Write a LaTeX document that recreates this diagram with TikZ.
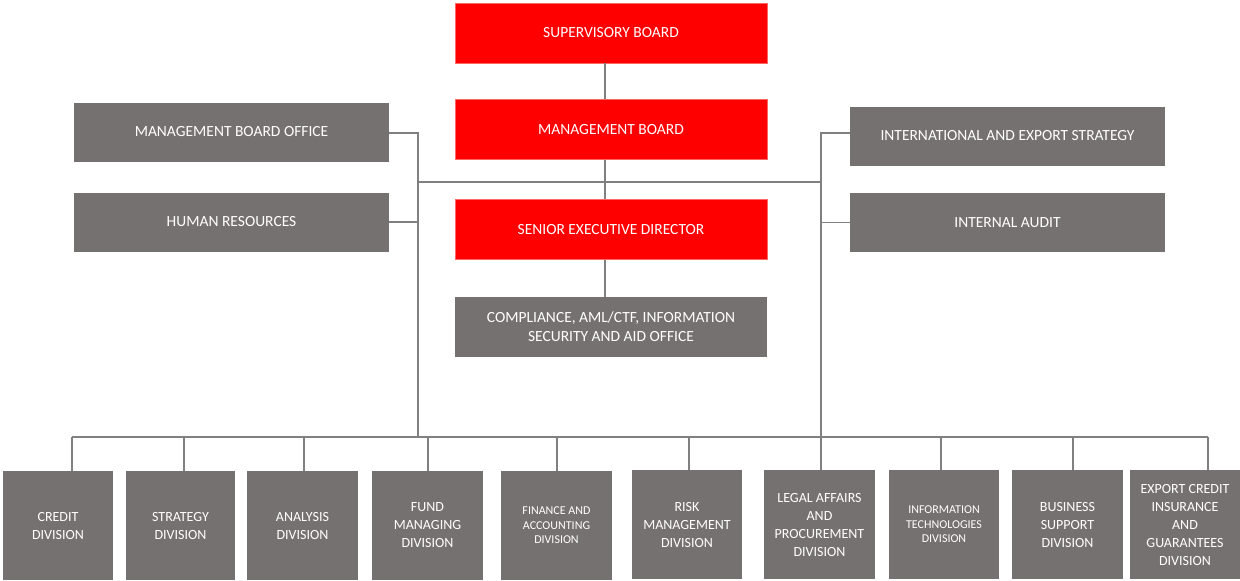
\documentclass[tikz,border=0pt]{standalone}
\usepackage{fontspec}
\setmainfont{Carlito}
\definecolor{boardred}{RGB}{255,0,0}
\definecolor{unitgrey}{RGB}{118,113,113}
\definecolor{linegrey}{RGB}{128,128,128}

\begin{document}
\begin{tikzpicture}[
    x=1pt, y=-1pt,
    box/.style={text=white, inner sep=0pt, align=center,
        font=\fontsize{15.5}{19}\selectfont},
    redbox/.style={box, fill=boardred, draw=boardred!60!white, line width=0.6pt,
        minimum width=312pt, minimum height=60pt},
    greybox/.style={box, fill=unitgrey, minimum width=315pt, minimum height=59pt},
    divbox/.style={box, fill=unitgrey, minimum width=110pt, minimum height=109pt,
        font=\fontsize{14}{18}\selectfont},
    smalltext/.style={font=\fontsize{12}{14.5}\selectfont},
    link/.style={draw=linegrey, line width=1.8pt}
    ]
    \useasboundingbox (0,0) rectangle (1240,581);

    % board column
    \node[redbox] (sup) at (611,33) {SUPERVISORY BOARD};
    \node[redbox] (mb) at (611,129.5) {MANAGEMENT BOARD};
    \node[redbox] (sed) at (611,229.5) {SENIOR EXECUTIVE DIRECTOR};
    \node[greybox, minimum width=312pt, minimum height=60pt] (comp) at (611,327) {COMPLIANCE, AML/CTF, INFORMATION\\SECURITY AND AID OFFICE};

    % staff units
    \node[greybox] (mbo) at (231.5,132) {MANAGEMENT BOARD OFFICE};
    \node[greybox] (hr) at (231.5,222) {HUMAN RESOURCES};
    \node[greybox] (ies) at (1007.5,136) {INTERNATIONAL AND EXPORT STRATEGY};
    \node[greybox] (ia) at (1007.5,222.5) {INTERNAL AUDIT};

    % divisions
    \node[divbox] (credit) at (58,525.5) {CREDIT\\DIVISION};
    \node[divbox, minimum width=109pt] (strategy) at (180.5,525.5) {STRATEGY\\DIVISION};
    \node[divbox, minimum width=111pt] (analysis) at (302.5,525.5) {ANALYSIS\\DIVISION};
    \node[divbox, minimum width=111pt] (fund) at (427.5,525.5) {FUND\\MANAGING\\DIVISION};
    \node[divbox, smalltext, minimum width=111pt] (finance) at (556.5,525.5) {FINANCE AND\\ACCOUNTING\\DIVISION};
    \node[divbox] (risk) at (687,524.5) {RISK\\MANAGEMENT\\DIVISION};
    \node[divbox, minimum width=111pt] (legal) at (819.5,524.5) {LEGAL AFFAIRS\\AND\\PROCUREMENT\\DIVISION};
    \node[divbox, smalltext] (it) at (944,524.5) {INFORMATION\\TECHNOLOGIES\\DIVISION};
    \node[divbox, minimum width=111pt] (business) at (1067.5,524.5) {BUSINESS\\SUPPORT\\DIVISION};
    \node[divbox] (export) at (1185,524.5) {EXPORT CREDIT\\INSURANCE\\AND\\GUARANTEES\\DIVISION};

    % trunk and branches
    \coordinate (trunk) at (605,182);
    \coordinate (ltop) at (418,133);
    \coordinate (lbot) at (418,437);
    \coordinate (rtop) at (821,133);
    \coordinate (rbot) at (821,437);

    \draw[link] (sup.south -| trunk) -- (mb.north -| trunk);
    \draw[link] (mb.south -| trunk) -- (sed.north -| trunk);
    \draw[link] (sed.south -| trunk) -- (comp.north -| trunk);
    \draw[link] (ltop |- trunk) -- (rtop |- trunk);

    \draw[link] (mbo.east |- ltop) -- (ltop) -- (lbot);
    \draw[link] (hr.east) -- (hr.east -| ltop);
    \draw[link] (ies.west |- rtop) -- (rtop) -- (rbot);
    \draw[link] (ia.west) -- (ia.west -| rtop);

    \foreach \n/\x in {credit/72,strategy/184,analysis/304,fund/428,finance/557,
        risk/689,legal/821,it/941,business/1073,export/1208}
    {
        \coordinate (\n-tap) at (\x,437);
        \draw[link] (\n-tap) -- (\n-tap |- \n.north);
    }
    \draw[link] (credit-tap) -- (export-tap);

\end{tikzpicture}
\end{document}
